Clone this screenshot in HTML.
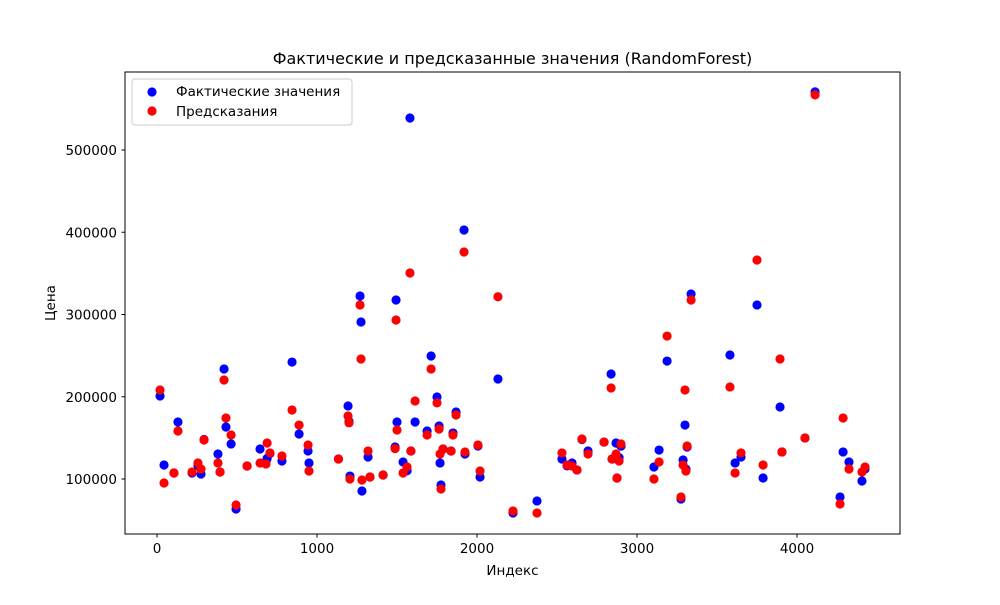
<!DOCTYPE html>
<html><head><meta charset="utf-8"><style>
body{margin:0;background:#fff;font-family:"Liberation Sans","DejaVu Sans",sans-serif}
svg text{font-family:"DejaVu Sans","Liberation Sans",sans-serif;fill:#000}
</style></head><body>
<svg id="chart" width="1000" height="600" xmlns="http://www.w3.org/2000/svg">
<rect width="1000" height="600" fill="#fff"/>
<text x="512.5" y="64" font-size="16" text-anchor="middle">Фактические и предсказанные значения (RandomForest)</text>
<g id="marks"></g>
<rect x="125" y="72" width="775" height="462" fill="none" stroke="#000" stroke-width="1"/>
<g id="axes"></g>
<text x="512.5" y="575" font-size="13.5" text-anchor="middle">Индекс</text>
<text x="0" y="0" font-size="13.5" text-anchor="middle" transform="translate(55,303) rotate(-90)">Цена</text>
<g>
<rect x="132" y="79" width="220" height="46" rx="3" fill="#fff" fill-opacity="0.8" stroke="#ccc"/>
<circle cx="152" cy="92" r="4.6" fill="#0000ff"/>
<text x="176" y="96" font-size="13.5">Фактические значения</text>
<circle cx="152" cy="111" r="4.6" fill="#ff0000"/>
<text x="176" y="116" font-size="13.5">Предсказания</text>
</g>
</svg>
<script>
const indices=[19,44,106,131,219,256,275,294,381,394,419,431,463,494,563,644,681,688,706,781,844,888,944,950,1134,1194,1200,1206,1269,1275,1281,1319,1331,1413,1494,1500,1488,1538,1563,1581,1587,1613,1688,1713,1750,1763,1769,1775,1788,1838,1869,1850,1925,1919,2006,2019,2131,2225,2375,2531,2563,2594,2625,2656,2694,2794,2838,2844,2869,2888,2900,2875,3106,3138,3188,3275,3288,3300,3313,3306,3338,3581,3613,3650,3750,3788,3894,3906,4050,4113,4269,4288,4325,4406,4425];
const actual=[200.9,117.0,107.3,169.3,107.3,116,106.1,148,130.4,108.5,233.7,163.2,142.6,63.5,115.8,136.5,120.7,125,131,121.9,242.2,154.7,134.0,119.5,124.3,188.8,170,103.6,322.5,290.9,85.4,126.7,102.4,104.9,317.6,169.3,138.9,120.7,110,538.9,134,169.3,158.4,249.5,199.7,164.4,119.5,92.7,136.5,134,181.5,156,130.4,402.7,140.1,102.4,221.6,58.7,73.3,124.3,116,119.5,111,148,134,144.9,227.7,124.3,143.8,126,140,101.2,114.6,135.2,243.4,75.7,123.1,165.6,138.9,112,324.9,250.8,119.5,126.7,311.6,101.2,187.6,132.9,149.9,570.7,78.1,132.9,120.7,97.6,112.2].map(v=>v*1000);
const predicted=[208.2,95.1,107.3,158.4,108.5,119.5,112.2,147.4,119.5,108.5,220.4,174.2,153.5,68.4,115.8,119.5,118.3,143.8,131.7,128.0,183.9,165.6,141.3,109.7,124.3,176.6,168.3,100,311.6,245.9,98.8,134,102.4,104.9,293.3,159.6,137,107.3,114.6,350.5,134,194.8,153.5,233.7,192.5,160.8,130.4,87.8,136.5,134,177.8,153.5,132.8,376.0,141.3,109.7,321.6,61.1,58.7,131.7,117,115.8,111,148.6,130.4,144.9,210.7,124.3,130.4,121.9,142.6,101.2,100,120.7,273.8,78.1,117,208.2,140.1,109.7,317.6,211.9,107.3,131.7,366.3,117,245.9,132.9,149.9,567,69.6,174.2,112.2,108.5,114.6].map(v=>v*1000);
const xTicks=[0,1000,2000,3000,4000];
const yTicks=[100000,200000,300000,400000,500000];
const NS="http://www.w3.org/2000/svg";
const xs=v=>157+v*0.16;
const ys=v=>561.25-v*0.0008225;
const marks=document.getElementById('marks');
function dot(x,y,col,name){
  const c=document.createElementNS(NS,'circle');
  c.setAttribute('cx',xs(x));c.setAttribute('cy',ys(y));c.setAttribute('r',4.6);c.setAttribute('fill',col);
  
  
  marks.appendChild(c);
}
indices.forEach((x,i)=>dot(x,actual[i],'#0000ff','actual-point'));
indices.forEach((x,i)=>dot(x,predicted[i],'#ff0000','predicted-point'));
const axes=document.getElementById('axes');
xTicks.forEach(t=>{
  const l=document.createElementNS(NS,'line');
  l.setAttribute('x1',xs(t));l.setAttribute('x2',xs(t));l.setAttribute('y1',534);l.setAttribute('y2',537.5);l.setAttribute('stroke','#000');
  
  
  axes.appendChild(l);
  const tx=document.createElementNS(NS,'text');
  tx.setAttribute('x',xs(t));tx.setAttribute('y',553);tx.setAttribute('font-size','13.5');tx.setAttribute('text-anchor','middle');
  tx.textContent=t;
  
  
  axes.appendChild(tx);
});
yTicks.forEach(t=>{
  const l=document.createElementNS(NS,'line');
  l.setAttribute('x1',121.5);l.setAttribute('x2',125);l.setAttribute('y1',ys(t));l.setAttribute('y2',ys(t));l.setAttribute('stroke','#000');
  
  
  axes.appendChild(l);
  const tx=document.createElementNS(NS,'text');
  tx.setAttribute('x',117);tx.setAttribute('y',ys(t)+5);tx.setAttribute('font-size','13.5');tx.setAttribute('text-anchor','end');
  tx.textContent=t;
  
  
  axes.appendChild(tx);
});
</script>
</body></html>
